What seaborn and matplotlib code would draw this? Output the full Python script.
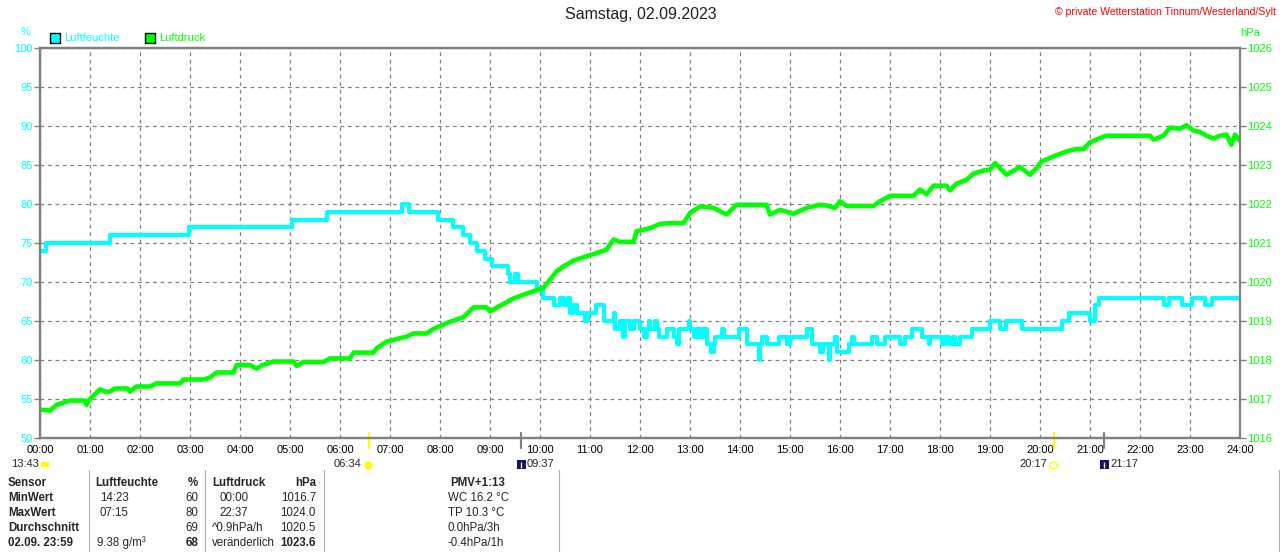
import pandas as pd
import matplotlib
matplotlib.use('Agg')
import matplotlib.pyplot as plt
from matplotlib.patches import Rectangle
from matplotlib.lines import Line2D
import seaborn as sns

# Luftfeuchte (%), Stufenverlauf: Zeitpunkt in Stunden -> Wert
hum_t = [0.00, 0.12, 1.40, 2.97, 5.03, 5.73, 7.23, 7.37, 7.96, 8.26, 8.46, 8.60, 8.74, 8.90,
         9.04, 9.36, 9.40, 9.50, 9.56, 9.94, 10.06, 10.27, 10.40, 10.47, 10.55, 10.60, 10.65,
         10.73, 10.90, 10.95, 11.12, 11.27, 11.47, 11.50, 11.60, 11.65, 11.70, 11.80, 11.88,
         12.00, 12.07, 12.13, 12.17, 12.20, 12.30, 12.33, 12.37, 12.53, 12.67, 12.73, 12.78,
         12.97, 13.00, 13.08, 13.13, 13.20, 13.25, 13.33, 13.42, 13.47, 13.50, 13.63, 13.67,
         13.97, 14.13, 14.37, 14.40, 14.43, 14.53, 14.77, 14.93, 15.00, 15.33, 15.43, 15.60,
         15.65, 15.77, 15.80, 15.90, 15.93, 16.17, 16.23, 16.27, 16.63, 16.73, 16.90, 17.20,
         17.30, 17.43, 17.63, 17.77, 17.80, 18.03, 18.10, 18.17, 18.25, 18.30, 18.40, 18.63,
         19.00, 19.20, 19.33, 19.63, 20.43, 20.57, 21.00, 21.10, 21.17, 22.47, 22.57, 22.83,
         23.03, 23.30, 23.43, 24.00]
hum_v = [74, 75, 76, 77, 78, 79, 80, 79, 78, 77, 76, 75, 74, 73,
         72, 71, 70, 71, 70, 69, 68, 67, 68, 67, 68, 66, 67,
         66, 65, 66, 67, 65, 66, 64, 65, 63, 65, 64, 65,
         64, 63, 64, 65, 64, 65, 64, 63, 64, 63, 62, 64,
         65, 64, 63, 64, 63, 64, 62, 61, 62, 63, 64, 63,
         64, 62, 60, 62, 63, 62, 63, 62, 63, 64, 62, 61,
         62, 60, 62, 63, 61, 62, 63, 62, 63, 62, 63, 62,
         63, 64, 63, 62, 63, 62, 63, 62, 63, 62, 63, 64,
         65, 64, 65, 64, 65, 66, 65, 67, 68, 67, 68, 67,
         68, 67, 68, 68]

# Luftdruck (hPa)
pres_t = [0.00, 0.20, 0.33, 0.60, 0.90, 0.93, 1.00, 1.20, 1.30, 1.40, 1.50, 1.75, 1.80, 1.93,
          2.20, 2.33, 2.80, 2.87, 3.27, 3.40, 3.53, 3.87, 3.93, 4.20, 4.33, 4.45, 4.67, 5.07,
          5.13, 5.27, 5.67, 5.80, 6.20, 6.27, 6.67, 6.73, 6.93, 7.33, 7.47, 7.73, 7.87, 8.20,
          8.47, 8.67, 8.93, 9.00, 9.20, 9.47, 9.73, 9.93, 10.07, 10.20, 10.33, 10.47, 10.67,
          10.93, 11.13, 11.33, 11.47, 11.60, 11.87, 11.93, 12.20, 12.40, 12.60, 12.87, 13.00,
          13.20, 13.47, 13.73, 13.93, 14.53, 14.60, 14.80, 15.07, 15.33, 15.60, 15.73, 15.90,
          16.00, 16.13, 16.67, 16.80, 17.00, 17.47, 17.60, 17.73, 17.87, 18.13, 18.20, 18.33,
          18.53, 18.67, 18.87, 19.00, 19.10, 19.33, 19.60, 19.80, 19.93, 20.03, 20.27, 20.53,
          20.73, 20.87, 21.00, 21.20, 21.33, 22.20, 22.27, 22.47, 22.60, 22.80, 22.93, 23.07,
          23.20, 23.33, 23.47, 23.60, 23.73, 23.83, 23.90, 24.00]
pres_v = [1016.73, 1016.70, 1016.85, 1016.96, 1016.96, 1016.85, 1017.00, 1017.25, 1017.19,
          1017.19, 1017.27, 1017.27, 1017.19, 1017.32, 1017.32, 1017.40, 1017.40, 1017.50,
          1017.50, 1017.55, 1017.68, 1017.68, 1017.87, 1017.87, 1017.78, 1017.87, 1017.96,
          1017.96, 1017.85, 1017.95, 1017.95, 1018.04, 1018.04, 1018.19, 1018.19, 1018.30,
          1018.47, 1018.60, 1018.68, 1018.68, 1018.80, 1018.98, 1019.10, 1019.35, 1019.35,
          1019.25, 1019.39, 1019.58, 1019.70, 1019.79, 1019.85, 1020.06, 1020.27, 1020.40,
          1020.55, 1020.66, 1020.74, 1020.83, 1021.09, 1021.03, 1021.03, 1021.30, 1021.38,
          1021.49, 1021.51, 1021.51, 1021.77, 1021.94, 1021.90, 1021.73, 1021.98, 1021.98,
          1021.73, 1021.85, 1021.75, 1021.90, 1021.98, 1021.96, 1021.90, 1022.07, 1021.95,
          1021.95, 1022.07, 1022.21, 1022.21, 1022.37, 1022.25, 1022.47, 1022.47, 1022.35,
          1022.52, 1022.62, 1022.78, 1022.86, 1022.88, 1023.05, 1022.75, 1022.95, 1022.75,
          1022.92, 1023.09, 1023.22, 1023.35, 1023.41, 1023.41, 1023.58, 1023.69, 1023.75,
          1023.75, 1023.65, 1023.75, 1023.96, 1023.93, 1024.02, 1023.88, 1023.85, 1023.75,
          1023.68, 1023.75, 1023.78, 1023.52, 1023.78, 1023.62]

hour_ticks = list(range(25))
hour_labels = ['00:00', '01:00', '02:00', '03:00', '04:00', '05:00', '06:00', '07:00', '08:00',
               '09:00', '10:00', '11:00', '12:00', '13:00', '14:00', '15:00', '16:00', '17:00',
               '18:00', '19:00', '20:00', '21:00', '22:00', '23:00', '24:00']
hum_ticks = [50, 55, 60, 65, 70, 75, 80, 85, 90, 95, 100]
pres_ticks = [1016, 1017, 1018, 1019, 1020, 1021, 1022, 1023, 1024, 1025, 1026]

# Sonnen- / Mondereignisse (Stunde, Text)
sun_events = [(6.57, '06:34'), (20.28, '20:17')]
moon_events = [(9.62, '09:37'), (21.28, '21:17')]

CYAN = '#00FFFF'
GREEN = '#00FF00'
GRAY = '#808080'
W, H = 1280, 552
FS = 8


def fx(x):
    return x / W


def fy(y):
    return 1 - y / H


sns.set_style('white')
plt.rcParams['font.family'] = ['Liberation Sans', 'DejaVu Sans']

fig = plt.figure(figsize=(12.8, 5.52), dpi=100)
ax = fig.add_axes([fx(40), fy(438), 1200 / W, 390 / H])
ax2 = ax.twinx()

hum_df = pd.DataFrame({'Zeit': hum_t, 'Luftfeuchte': hum_v})
pres_df = pd.DataFrame({'Zeit': pres_t, 'Luftdruck': pres_v})

sns.lineplot(data=hum_df, x='Zeit', y='Luftfeuchte', ax=ax, color=CYAN, lw=3,
             drawstyle='steps-post', legend=False)
sns.lineplot(data=pres_df, x='Zeit', y='Luftdruck', ax=ax2, color=GREEN, lw=3.3, legend=False)

ax.set_xlim(0, 24)
ax.set_ylim(50, 100)
ax2.set_ylim(1016, 1026)
ax.set_xticks(hour_ticks)
ax.set_xticklabels(hour_labels)
ax.set_yticks(hum_ticks)
ax2.set_yticks(pres_ticks)
ax.set_xlabel('')
ax.set_ylabel('')
ax2.set_ylabel('')

ax.grid(True, color=GRAY, ls=(0, (3, 3)), lw=0.9)
for a in (ax, ax2):
    for s in a.spines.values():
        s.set_color(GRAY)
        s.set_linewidth(1.6)
ax.spines['right'].set_visible(False)

ax.tick_params(axis='x', length=0, pad=5, labelsize=FS, labelcolor='black')
ax.tick_params(axis='y', length=4, width=1, color=GRAY, pad=1, labelsize=FS, labelcolor=CYAN)
ax2.tick_params(axis='y', length=4, width=1, color=GRAY, pad=1, labelsize=FS, labelcolor=GREEN)

# Markierungen für Sonne / Mond an der x-Achse
for h, _ in sun_events:
    ax.plot([h, h], [0.012, -0.025], color='yellow', lw=1.6, transform=ax.get_xaxis_transform(),
            clip_on=False)
for h, _ in moon_events:
    ax.plot([h, h], [0.012, -0.025], color=GRAY, lw=1.6, transform=ax.get_xaxis_transform(),
            clip_on=False)

# Titel und Kopf
fig.text(fx(641), fy(15), 'Samstag, 02.09.2023', ha='center', va='center', fontsize=11.5,
         color='#202020')
fig.text(fx(1276), fy(12), '© private Wetterstation Tinnum/Westerland/Sylt', ha='right',
         va='center', fontsize=7.6, color='red')
fig.text(fx(26), fy(32), '%', ha='center', va='center', fontsize=FS, color=CYAN)
fig.text(fx(1240), fy(33), 'hPa', ha='left', va='center', fontsize=FS, color=GREEN)

fig.add_artist(Rectangle((fx(50), fy(43)), 10 / W, 10 / H, facecolor=CYAN, edgecolor='black',
                         lw=1, transform=fig.transFigure))
fig.text(fx(64), fy(38), 'Luftfeuchte', ha='left', va='center', fontsize=FS, color=CYAN)
fig.add_artist(Rectangle((fx(145), fy(43)), 10 / W, 10 / H, facecolor=GREEN, edgecolor='black',
                         lw=1, transform=fig.transFigure))
fig.text(fx(159), fy(38), 'Luftdruck', ha='left', va='center', fontsize=FS, color=GREEN)

# Zeiten unter der Achse
fig.text(fx(39), fy(464), '13:43', ha='right', va='center', fontsize=FS)
fig.add_artist(Rectangle((fx(41), fy(467)), 8 / W, 5 / H, facecolor='yellow', edgecolor='none',
                         transform=fig.transFigure))
for h, lbl in sun_events:
    xp = 40 + h * 50
    fig.text(fx(xp - 7), fy(464), lbl, ha='right', va='center', fontsize=FS)
    fig.add_artist(Line2D([fx(xp - 1)], [fy(465)], marker='o', ms=5, color='yellow',
                          mfc='yellow' if h < 12 else 'none', transform=fig.transFigure))
for h, lbl in moon_events:
    xp = 40 + h * 50
    fig.add_artist(Rectangle((fx(xp - 4), fy(469)), 9 / W, 9 / H, facecolor='#101080',
                             edgecolor='none', transform=fig.transFigure))
    fig.add_artist(Line2D([fx(xp)], [fy(465)], marker='|', ms=5, color='yellow',
                          transform=fig.transFigure))
    fig.text(fx(xp + 6), fy(464), lbl, ha='left', va='center', fontsize=FS)

# Tabelle
rows_y = [483, 498, 513, 528, 543]
col1 = ['Sensor', 'MinWert', 'MaxWert', 'Durchschnitt', '02.09. 23:59']
hum_col = ['Luftfeuchte', '14:23', '07:15', '', '9.38 g/m³']
hum_col_x = [95, 100, 100, 100, 97]
hum_vals = ['%', '60', '80', '69', '68']
pres_col = ['Luftdruck', '00:00', '22:37', '^0.9hPa/h', 'veränderlich']
pres_col_x = [212, 219, 219, 212, 212]
pres_vals = ['hPa', '1016.7', '1024.0', '1020.5', '1023.6']
extra_col = ['PMV+1:13', 'WC 16.2 °C', 'TP 10.3 °C', '0.0hPa/3h', '-0.4hPa/1h']

fs = 8.3
for i, y in enumerate(rows_y):
    bold_row = i == 0 or i == 4
    fig.text(fx(8), fy(y), col1[i], ha='left', va='center', fontsize=fs, fontweight='bold')
    fig.text(fx(hum_col_x[i]), fy(y), hum_col[i], ha='left', va='center', fontsize=fs,
             fontweight='bold' if i == 0 else 'normal')
    fig.text(fx(198), fy(y), hum_vals[i], ha='right', va='center', fontsize=fs,
             fontweight='bold' if bold_row else 'normal')
    fig.text(fx(pres_col_x[i]), fy(y), pres_col[i], ha='left', va='center', fontsize=fs,
             fontweight='bold' if i == 0 else 'normal')
    fig.text(fx(316), fy(y), pres_vals[i], ha='right', va='center', fontsize=fs,
             fontweight='bold' if bold_row else 'normal')
    if i == 0:
        fig.text(fx(478), fy(y), extra_col[i], ha='center', va='center', fontsize=fs,
                 fontweight='bold')
    else:
        fig.text(fx(448), fy(y), extra_col[i], ha='left', va='center', fontsize=fs)

for xs in [89, 205, 324, 559, 1279]:
    fig.add_artist(Line2D([fx(xs), fx(xs)], [fy(470), fy(552)], color='#B0B0B0', lw=0.8,
                          transform=fig.transFigure))

fig.savefig('out.png', dpi=100)
